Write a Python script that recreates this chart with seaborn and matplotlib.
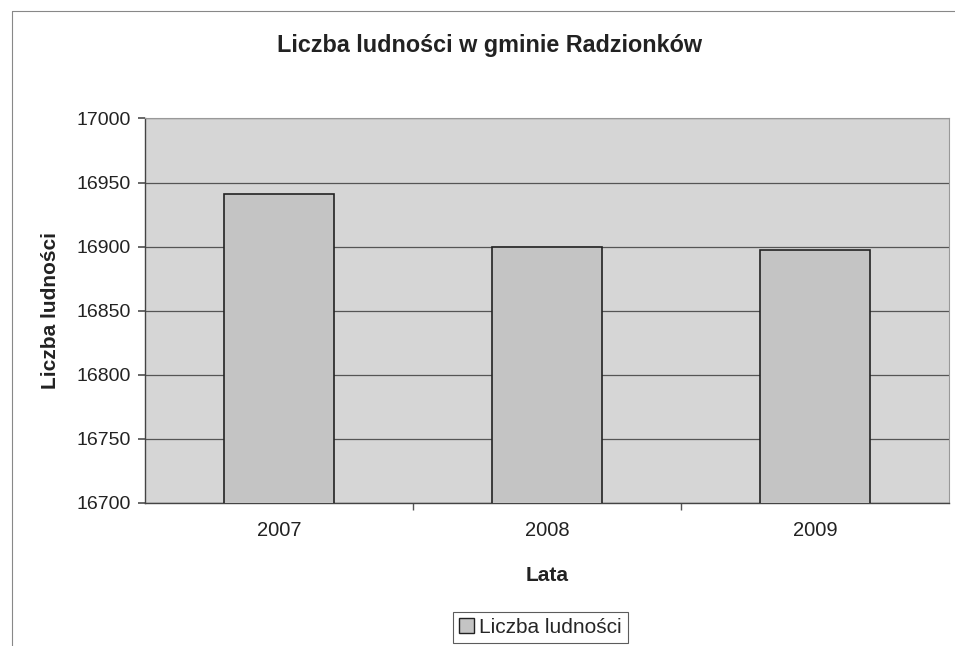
import matplotlib
matplotlib.use("Agg")
import matplotlib.pyplot as plt
import seaborn as sns
import pandas as pd
from matplotlib.patches import Patch
from matplotlib.lines import Line2D

years = ["2007", "2008", "2009"]
population = [16941, 16900, 16897]
yticks = [16700, 16750, 16800, 16850, 16900, 16950, 17000]

df = pd.DataFrame({"Lata": years, "Liczba ludności": population})

sns.set_theme(style="white")
plt.rcParams['font.family'] = ['Liberation Sans', 'DejaVu Sans']

fig = plt.figure(figsize=(9.55, 6.46), dpi=100)
ax = fig.add_axes([0.1518, 0.2214, 0.842, 0.5952])
ax.set_facecolor("#d6d6d6")

sns.barplot(data=df, x="Lata", y="Liczba ludności", ax=ax, color="#c4c4c4",
            edgecolor="#222222", linewidth=1.2, width=0.41, saturation=1, zorder=3)

ax.set_xlim(-0.5, len(years) - 0.5)
ax.set_ylim(16700, 17000)
ax.set_yticks(yticks)
ax.set_yticklabels([str(v) for v in yticks], fontsize=14, color="#222222")
ax.set_xticks([i + 0.5 for i in range(len(years) - 1)], minor=True)
ax.tick_params(axis="x", which="major", labelsize=14.5, colors="#222222", length=0, pad=13)
ax.tick_params(axis="x", which="minor", length=5, direction="out", bottom=True,
               color="#555555")
ax.tick_params(axis="y", length=5, direction="out", left=True, color="#555555", pad=5)
ax.grid(axis="y", color="#555555", linewidth=0.9, zorder=1)
ax.set_axisbelow(True)
for s in ["top", "right"]:
    ax.spines[s].set_color("#999999")
    ax.spines[s].set_linewidth(0.8)
for s in ["left", "bottom"]:
    ax.spines[s].set_color("#444444")
    ax.spines[s].set_linewidth(1.0)

ax.set_xlabel("Lata", fontsize=15, fontweight="bold", color="#222222", labelpad=19)
ax.set_ylabel("Liczba ludności", fontsize=15, fontweight="bold", color="#222222", labelpad=12)
fig.text(0.513, 0.93, "Liczba ludności w gminie Radzionków", ha="center", va="center",
         fontsize=16.8, fontweight="bold", color="#222222")

handle = Patch(facecolor="#c4c4c4", edgecolor="#222222", label="Liczba ludności")
leg = fig.legend(handles=[handle], loc="center", bbox_to_anchor=(0.566, 0.029),
                 frameon=True, fontsize=15, handlelength=0.7, handleheight=0.7,
                 handletextpad=0.25, borderpad=0.3, fancybox=False)
leg.get_frame().set_edgecolor("#333333")
leg.get_frame().set_linewidth(0.8)

fig.add_artist(Line2D([0.0125, 0.0125], [0.0, 0.983], transform=fig.transFigure,
                      color="#888888", linewidth=0.8))
fig.add_artist(Line2D([0.0125, 1.0], [0.983, 0.983], transform=fig.transFigure,
                      color="#888888", linewidth=0.8))

fig.savefig("out.png", dpi=100, facecolor="white")
